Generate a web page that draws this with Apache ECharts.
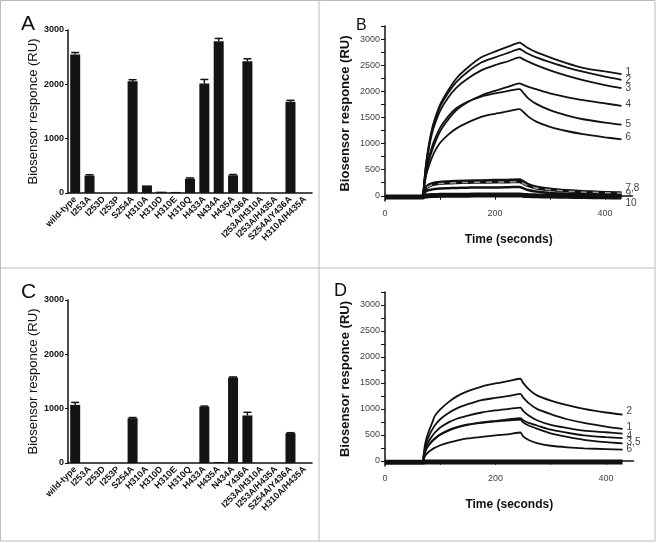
<!DOCTYPE html>
<html>
<head>
<meta charset="utf-8">
<title>Biosensor responce</title>
<script src="https://cdn.jsdelivr.net/npm/echarts@6/dist/echarts.min.js"></script>
<style>html,body{margin:0;padding:0;background:#fff;}</style>
</head>
<body>
<div id="main" style="width:656px;height:543px;"></div>
<script type="text/javascript">

// bar panels (A, C) -- note C lists H435A before N434A
var categoriesA = ['wild-type', 'I253A', 'I253D', 'I253P', 'S254A', 'H310A', 'H310D', 'H310E', 'H310Q',
    'H433A', 'N434A', 'H435A', 'Y436A', 'I253A/H310A', 'I253A/H435A', 'S254A/Y436A', 'H310A/H435A'];
var categoriesC = ['wild-type', 'I253A', 'I253D', 'I253P', 'S254A', 'H310A', 'H310D', 'H310E', 'H310Q',
    'H433A', 'H435A', 'N434A', 'Y436A', 'I253A/H310A', 'I253A/H435A', 'S254A/Y436A', 'H310A/H435A'];
var bindA = [2550, 320, 0, 0, 2055, 140, 25, 20, 262, 2015, 2795, 325, 2425, 0, 0, 1678, 0];
var errA  = [35, 15, 0, 0, 30, 0, 0, 0, 15, 75, 50, 15, 45, 0, 0, 28, 0];
var bindC = [1070, 0, 0, 0, 825, 0, 0, 0, 0, 1035, 18, 1572, 875, 0, 0, 550, 0];
var errC  = [45, 0, 0, 0, 12, 0, 0, 0, 0, 12, 0, 12, 58, 0, 0, 8, 0];
var barTicks = [0, 1000, 2000, 3000];

// sensorgram panels (B, D)
var timeS = [0, 68, 70, 72, 75, 80, 85, 90, 100, 115, 130, 150, 175, 200, 225, 245,
             250, 260, 275, 300, 330, 360, 400, 430];
var b1 = [-20, -20, 100, 350, 650, 1000, 1260, 1450, 1740, 2020, 2250, 2450, 2650, 2760, 2860, 2930,
          2900, 2830, 2750, 2650, 2540, 2450, 2380, 2330];
var b2 = [-20, -20, 100, 330, 620, 960, 1220, 1410, 1700, 1970, 2180, 2370, 2550, 2650, 2740, 2810,
          2780, 2720, 2650, 2560, 2460, 2375, 2280, 2220];
var b3 = [-20, -20, 90, 310, 590, 920, 1170, 1350, 1620, 1880, 2070, 2240, 2400, 2500, 2580, 2650,
          2620, 2570, 2500, 2400, 2300, 2215, 2120, 2060];
var b4 = [-20, -20, 70, 250, 450, 680, 850, 990, 1230, 1460, 1640, 1790, 1920, 2010, 2090, 2150,
          2130, 2090, 2040, 1960, 1890, 1830, 1770, 1720];
var b5 = [-20, -20, 80, 280, 500, 740, 920, 1070, 1300, 1520, 1680, 1800, 1900, 1960, 2010, 2040,
          1990, 1870, 1760, 1640, 1540, 1465, 1400, 1360];
var b6 = [-20, -20, 60, 220, 400, 580, 720, 840, 1010, 1170, 1290, 1400, 1510, 1570, 1620, 1660,
          1620, 1520, 1420, 1320, 1240, 1180, 1120, 1080];
var b7 = [-20, -20, 40, 120, 170, 210, 230, 245, 260, 270, 280, 285, 290, 295, 300, 305,
          280, 220, 170, 130, 100, 80, 65, 55];
var b8 = [-20, -20, 30, 100, 150, 185, 205, 220, 235, 245, 250, 255, 260, 262, 265, 268,
          245, 195, 150, 115, 90, 72, 60, 50];
var b9 = [-20, -20, 20, 60, 90, 110, 120, 130, 140, 145, 150, 155, 160, 160, 165, 170,
          150, 110, 80, 55, 40, 30, 25, 20];
var b10 = [-25, -25, -15, -10, -5, 0, 5, 5, 10, 10, 10, 10, 15, 15, 15, 15,
           10, 5, 0, -5, -10, -15, -20, -25];

var d2 = [-20, -20, 120, 280, 430, 590, 720, 860, 990, 1130, 1240, 1340, 1430, 1490, 1540, 1580,
          1500, 1380, 1260, 1160, 1070, 1000, 930, 890];
var d1 = [-20, -20, 100, 230, 360, 490, 590, 680, 800, 920, 1010, 1090, 1170, 1210, 1250, 1290,
          1220, 1110, 1000, 900, 800, 730, 660, 615];
var d4 = [-20, -20, 80, 180, 290, 390, 470, 540, 640, 740, 810, 870, 930, 970, 1000, 1025,
          960, 870, 780, 690, 630, 580, 550, 525];
var d3 = [-20, -20, 60, 150, 240, 320, 380, 430, 510, 590, 650, 700, 740, 770, 800, 820,
          780, 730, 680, 600, 540, 490, 455, 435];
var d5 = [-20, -20, 60, 140, 230, 310, 370, 420, 500, 580, 640, 690, 730, 760, 780, 795,
          740, 680, 620, 530, 460, 405, 360, 335];
var d6 = [-20, -20, 30, 80, 130, 180, 220, 250, 300, 350, 390, 430, 460, 490, 515, 545,
          470, 400, 340, 290, 260, 240, 225, 215];
var d0 = [-30, -30, -30, -25, -25, -25, -25, -25, -25, -25, -25, -25, -25, -25, -25, -25,
          -25, -25, -25, -25, -25, -25, -25, -25];

var respTicks = [0, 250, 500, 750, 1000, 1250, 1500, 1750, 2000, 2250, 2500, 2750, 3000, 3250];
var respLabels = [0, 500, 1000, 1500, 2000, 2500, 3000];
var timeTicks = [0, 100, 200, 300, 400];
var timeLabels = [0, 200, 400];

var FONT = 'Liberation Sans, Arial, sans-serif';
var INK = '#111';
function plain(v) { return String(v); }

var myChart = echarts.init(document.getElementById('main'));

function barXAxis(gi, cats) {
    return {
        gridIndex: gi, type: 'category', data: cats,
        axisLine: {lineStyle: {color: INK, width: 1.5}},
        axisTick: {alignWithLabel: true, length: 4, lineStyle: {color: INK}},
        axisLabel: {rotate: 45, interval: 0, fontSize: 9, fontWeight: 'bold', color: INK, margin: 5, fontFamily: FONT}
    };
}
function barYAxis(gi) {
    return {
        gridIndex: gi, type: 'value', min: 0, max: 3000, interval: 1000,
        axisLine: {show: true, lineStyle: {color: INK, width: 1.5}},
        axisTick: {show: true, length: 3, customValues: barTicks, lineStyle: {color: INK}},
        axisLabel: {customValues: barTicks, formatter: plain, fontSize: 9, fontWeight: 'bold', color: INK, margin: 4, fontFamily: FONT},
        splitLine: {show: false},
        name: 'Biosensor responce (RU)', nameLocation: 'middle', nameGap: 26,
        nameTextStyle: {fontSize: 13, color: INK, fontFamily: FONT}
    };
}
function timeXAxis(gi) {
    return {
        gridIndex: gi, type: 'value', min: 0, max: 450,
        axisLine: {onZero: true, lineStyle: {color: INK, width: 1.5}},
        axisTick: {show: true, length: 4, customValues: timeTicks, lineStyle: {color: INK}},
        axisLabel: {customValues: timeLabels, formatter: plain, fontSize: 9, color: '#444', margin: 8, fontFamily: FONT},
        splitLine: {show: false},
        name: 'Time (seconds)', nameLocation: 'middle', nameGap: 33,
        nameTextStyle: {fontSize: 12, fontWeight: 'bold', color: INK, fontFamily: FONT}
    };
}
function respYAxis(gi) {
    return {
        gridIndex: gi, type: 'value', min: -100, max: 3250,
        axisLine: {show: true, lineStyle: {color: INK, width: 1.5}},
        axisTick: {show: true, length: 4, customValues: respTicks, lineStyle: {color: INK}},
        axisLabel: {customValues: respLabels, formatter: plain, fontSize: 9, color: '#444', margin: 5, fontFamily: FONT},
        splitLine: {show: false},
        name: 'Biosensor responce (RU)', nameLocation: 'middle', nameGap: 33,
        nameTextStyle: {fontSize: 13, fontWeight: 'bold', color: INK, fontFamily: FONT}
    };
}

function bars(gi, vals) {
    return {type: 'bar', xAxisIndex: gi, yAxisIndex: gi, data: vals, barWidth: 10,
            itemStyle: {color: '#141414'}, silent: true};
}
function errors(gi, vals, errs) {
    return {
        type: 'custom', xAxisIndex: gi, yAxisIndex: gi, silent: true,
        data: vals.map(function (v, i) { return [i, v, errs[i]]; }),
        renderItem: function (params, api) {
            if (!api.value(2)) return;
            var top = api.coord([api.value(0), api.value(1) + api.value(2)]);
            var base = api.coord([api.value(0), api.value(1)]);
            var st = {stroke: INK, lineWidth: 1.5};
            return {type: 'group', children: [
                {type: 'line', shape: {x1: top[0], y1: top[1], x2: base[0], y2: base[1]}, style: st},
                {type: 'line', shape: {x1: top[0] - 4, y1: top[1], x2: top[0] + 4, y2: top[1]}, style: st}
            ]};
        }
    };
}
function curve(gi, label, vals, dy, extra) {
    var s = {
        type: 'line', xAxisIndex: gi, yAxisIndex: gi, silent: true,
        data: timeS.map(function (t, i) { return [t, vals[i]]; }),
        showSymbol: false, smooth: 0.25,
        lineStyle: {color: INK, width: 1.8},
        endLabel: {show: !!label, formatter: label || '', fontSize: 10, color: '#444',
                   offset: [0, dy || 0], fontFamily: FONT, distance: 4}
    };
    if (extra) {
        for (var k in extra) s[k] = extra[k];
    }
    return s;
}

var option = {
    backgroundColor: '#fff',
    animation: false,
    textStyle: {fontFamily: FONT},
    grid: [
        {left: 68, top: 30, width: 244, height: 163},
        {left: 385, top: 26, width: 247.5, height: 175},
        {left: 68, top: 300, width: 244, height: 163},
        {left: 385, top: 292, width: 248.6, height: 174}
    ],
    xAxis: [barXAxis(0, categoriesA), timeXAxis(1), barXAxis(2, categoriesC), timeXAxis(3)],
    yAxis: [barYAxis(0), respYAxis(1), barYAxis(2), respYAxis(3)],
    series: [
        bars(0, bindA), errors(0, bindA, errA),
        bars(2, bindC), errors(2, bindC, errC),

        curve(1, '', b10, 0, {lineStyle: {color: INK, width: 5}}),
        curve(1, '10', b10, 6),
        curve(1, '9', b9, 0, {lineStyle: {color: INK, width: 2.5}}),
        curve(1, '', b8, 0, {lineStyle: {color: INK, width: 3}}),
        curve(1, '7,8', b7, -5, {lineStyle: {color: INK, width: 3}}),
        curve(1, '', b8, 0, {lineStyle: {color: '#999', width: 1.5, type: [6, 6]}}),
        curve(1, '6', b6, -2),
        curve(1, '5', b5, 0),
        curve(1, '4', b4, -2),
        curve(1, '3', b3, 0),
        curve(1, '2', b2, 0),
        curve(1, '1', b1, -2),

        curve(3, '', d0, 0, {lineStyle: {color: INK, width: 5}}),
        curve(3, '6', d6, 0),
        curve(3, '3,5', d5, -1),
        curve(3, '', d3, 0),
        curve(3, '4', d4, 3),
        curve(3, '1', d1, -2),
        curve(3, '2', d2, -3)
    ],
    graphic: [
        {type: 'rect', shape: {x: 0.5, y: 0.5, width: 654.5, height: 540.5}, style: {fill: 'none', stroke: '#bbb', lineWidth: 1}},
        {type: 'line', shape: {x1: 319, y1: 0, x2: 319, y2: 541}, style: {stroke: '#bbb', lineWidth: 1}},
        {type: 'line', shape: {x1: 0, y1: 268, x2: 655, y2: 268}, style: {stroke: '#bbb', lineWidth: 1}},
        {type: 'text', left: 21, top: 14, style: {text: 'A', fontSize: 21, fill: INK, fontFamily: FONT}},
        {type: 'text', left: 356, top: 18, style: {text: 'B', fontSize: 16, fill: INK, fontFamily: FONT}},
        {type: 'text', left: 21, top: 282, style: {text: 'C', fontSize: 21, fill: INK, fontFamily: FONT}},
        {type: 'text', left: 334, top: 282, style: {text: 'D', fontSize: 18, fill: INK, fontFamily: FONT}}
    ]
};

myChart.setOption(option);

</script>
</body>
</html>
